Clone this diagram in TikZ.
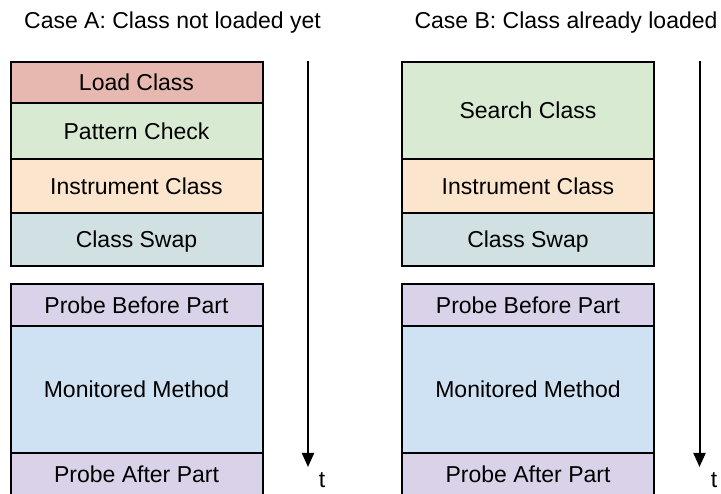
\documentclass[tikz,border=0pt]{standalone}
\usepackage{fontspec}
\setmainfont{Liberation Sans}
\usetikzlibrary{arrows.meta}

\definecolor{loadred}{HTML}{E6B8AF}
\definecolor{checkgreen}{HTML}{D9EAD3}
\definecolor{instrorange}{HTML}{FCE5CD}
\definecolor{swapcyan}{HTML}{D0E0E3}
\definecolor{probepurple}{HTML}{D9D2E9}
\definecolor{methodblue}{HTML}{CFE2F3}

\tikzset{
    stage/.style={draw=black, line width=2pt, minimum width=252pt, inner sep=0pt, outer sep=0pt,
        text height=16.5pt, text depth=0pt, font=\fontsize{23}{27}\selectfont},
    casetitle/.style={anchor=base, inner sep=0pt, font=\fontsize{23}{27}\selectfont},
    timeline/.style={line width=2pt, -{Triangle[width=12pt,length=14pt]}},
}

\begin{document}
\begin{tikzpicture}[x=1pt, y=-1pt]

    % Define parameters
    \def\xa{136.5}  % centre of case A column
    \def\xb{528}    % centre of case B column

    \useasboundingbox (0,0) rectangle (721,494);

    % Titles
    \node[casetitle] (titleA) at (172.5,28.3) {Case A: Class not loaded yet};
    \node[casetitle] (titleB) at (566,28.3) {Case B: Class already loaded};

    % case A only
    \node[stage, fill=loadred, minimum height=41.3pt] (a-load) at (\xa,82.35) {Load Class};
    \node[stage, fill=checkgreen, minimum height=56.3pt] (a-check) at (\xa,131.15) {Pattern Check};

    % case B only
    \node[stage, fill=checkgreen, minimum height=97.6pt] (b-search) at (\xb,110.5) {Search Class};

    % shared part
    \foreach \col/\x in {a/\xa, b/\xb} {
        \node[stage, fill=instrorange, minimum height=53.4pt] (\col-instr) at (\x,186) {Instrument Class};
        \node[stage, fill=swapcyan, minimum height=53.6pt] (\col-swap) at (\x,239.5) {Class Swap};
        \node[stage, fill=probepurple, minimum height=41.7pt] (\col-before) at (\x,305.15) {Probe Before Part};
        \node[stage, fill=methodblue, minimum height=127pt] (\col-method) at (\x,389.5) {Monitored Method};
        \node[stage, fill=probepurple, minimum height=42pt] (\col-after) at (\x,474) {Probe After Part};
    }

    % Time axes
    \coordinate (tA-start) at (308,61);
    \coordinate (tA-end) at (308,467);
    \coordinate (tB-start) at (699.5,61);
    \coordinate (tB-end) at (699.5,467);
    \draw[timeline] (tA-start) -- (tA-end);
    \draw[timeline] (tB-start) -- (tB-end);
    \node[casetitle] (tA) at (322,488) {t};
    \node[casetitle] (tB) at (714,488) {t};

\end{tikzpicture}
\end{document}
